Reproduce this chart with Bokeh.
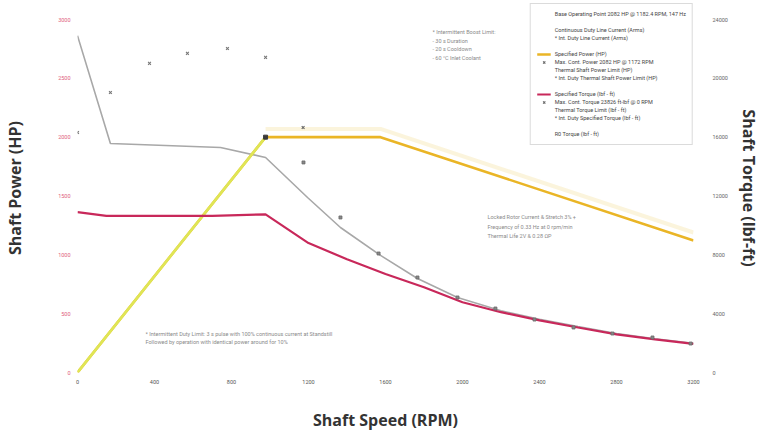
from bokeh.plotting import figure
from bokeh.models import Range1d, LinearAxis, Legend, LegendItem, Label, FixedTicker
from bokeh.embed import file_html
from bokeh.resources import INLINE

# ---------------- data ----------------
x_ticks = [0, 400, 800, 1200, 1600, 2000, 2400, 2800, 3200]
hp_ticks = [0, 500, 1000, 1500, 2000, 2500, 3000]
tq_ticks = [0, 4000, 8000, 12000, 16000, 20000, 24000]

# Specified power (HP)
power_rpm = [0, 977, 1574, 3200]
power_hp = [0, 2000, 2000, 1122]
# thermal shaft power limit (rising part)
thermal_power_rpm = [0, 977]
thermal_power_hp = [0, 2000]
# intermittent duty thermal shaft power (faint)
int_power_rpm = [977, 1574, 3200]
int_power_hp = [2070, 2070, 1190]

# Specified torque (lbf-ft)
torque_rpm = [0, 150, 400, 700, 977, 1200, 1400, 1600, 1800, 2000, 2200, 2400, 2600, 2800, 3000, 3200]
torque_lbft = [10900, 10650, 10650, 10650, 10750, 8800, 7700, 6700, 5800, 4780, 4100, 3540, 3060, 2590, 2250, 1950]

# Thermal torque limit (lbf-ft)
thermal_torque_rpm = [0, 171, 743, 977, 1195, 1366, 1574, 1766, 1974, 2200, 2400, 2600, 2800, 3000, 3200]
thermal_torque_lbft = [22900, 15570, 15300, 14620, 11900, 9860, 7960, 6390, 5100, 4200, 3620, 3120, 2650, 2290, 1990]

# Continuous duty line current markers (plotted on power scale)
current_rpm = [0, 171, 374, 571, 779, 977]
current_val = [2040, 2380, 2627, 2712, 2754, 2678]

# Max continuous torque markers
maxtq_rpm = [1174, 1366, 1564, 1766, 1974, 2171, 2374, 2577, 2779, 2987, 3185]
maxtq_lbft = [14280, 10540, 8090, 6460, 5100, 4350, 3600, 3060, 2650, 2380, 1970]

# Base operating point / max cont power
base_rpm = [977]
base_hp = [2000]
maxpow_rpm = [1172]
maxpow_hp = [2082]

FONT = "Open Sans"
SMALL_FONT = "Roboto"

p = figure(width=765, height=437, output_backend="svg", toolbar_location=None,
           x_range=Range1d(0, 3200), y_range=Range1d(0, 3136),
           min_border_left=77, min_border_right=72, min_border_top=3,
           min_border_bottom=65, background_fill_color="white",
           border_fill_color="white")
p.extra_y_ranges = {"torque": Range1d(0, 25088)}
p.grid.visible = False
p.outline_line_color = None

# ---------------- glyphs ----------------
r_int_pow = p.line(int_power_rpm, int_power_hp, line_color="#f3dc8a", line_width=4, line_alpha=0.3)
r_therm_tq = p.line(thermal_torque_rpm, thermal_torque_lbft, y_range_name="torque",
                    line_color="#a8a8a8", line_width=1.6)
r_power = p.line(power_rpm, power_hp, line_color="#eab526", line_width=2.6)
r_therm_pow = p.line(thermal_power_rpm, thermal_power_hp, line_color="#dfe655", line_width=2.6)
r_torque = p.line(torque_rpm, torque_lbft, y_range_name="torque", line_color="#c8285a", line_width=2.2)

r_current = p.scatter(current_rpm, current_val, marker="x", size=4, line_color="#777777", line_width=1.1)
r_maxtq = p.scatter(maxtq_rpm, maxtq_lbft, y_range_name="torque", marker="square", size=3,
                    fill_color="#888888", line_color="#6a6a6a", line_width=0.8)
r_maxpow = p.scatter(maxpow_rpm, maxpow_hp, marker="x", size=4, line_color="#666666", line_width=1.1)
r_base = p.scatter(base_rpm, base_hp, marker="square", size=4, fill_color="#3a3a3a", line_color="#3a3a3a")

# dummy renderers for legend rows
def blank():
    return p.line([], [], line_alpha=0)

r_intspec = p.line([], [], line_color="#999999", line_width=1)
r_r0 = p.quad(left=[], right=[], top=[], bottom=[], fill_color="#cccccc", line_color="#bbbbbb")
r_leg_base = p.scatter([], [], marker="x", size=4, line_color="#555555")

items = [
    LegendItem(label="Base Operating Point 2082 HP @ 1182.4 RPM, 147 Hz", renderers=[r_leg_base]),
    LegendItem(label=" ", renderers=[blank()]),
    LegendItem(label="Continuous Duty Line Current (Arms)", renderers=[blank()]),
    LegendItem(label="* Int. Duty Line Current (Arms)", renderers=[blank()]),
    LegendItem(label=" ", renderers=[blank()]),
    LegendItem(label="Specified Power (HP)", renderers=[r_power]),
    LegendItem(label="Max. Cont. Power 2082 HP @ 1172 RPM", renderers=[r_maxpow]),
    LegendItem(label="Thermal Shaft Power Limit (HP)", renderers=[blank()]),
    LegendItem(label="* Int. Duty Thermal Shaft Power Limit (HP)", renderers=[blank()]),
    LegendItem(label=" ", renderers=[blank()]),
    LegendItem(label="Specified Torque (lbf - ft)", renderers=[r_torque]),
    LegendItem(label="Max. Cont. Torque 23826 ft-lbf @ 0 RPM", renderers=[r_maxpow]),
    LegendItem(label="Thermal Torque Limit (lbf - ft)", renderers=[blank()]),
    LegendItem(label="* Int. Duty Specified Torque (lbf - ft)", renderers=[r_intspec]),
    LegendItem(label=" ", renderers=[blank()]),
    LegendItem(label="R0 Torque (lbf - ft)", renderers=[r_r0]),
]
legend = Legend(items=items, location="top_right", margin=0, padding=6, spacing=0,
                label_text_font_size="5.5px", label_text_font=SMALL_FONT, label_text_color="#444444",
                label_height=8, glyph_height=8, glyph_width=14, label_standoff=4,
                border_line_color="#b8b8b8", border_line_width=1,
                background_fill_color="white", background_fill_alpha=1)
p.add_layout(legend, "center")

# ---------------- annotations ----------------
note_style = dict(text_font_size="5.5px", text_font=SMALL_FONT, text_color="#8a8a8a")
for i, t in enumerate(["* Intermittent Boost Limit:", "- 30 s Duration", "- 20 s Cooldown",
                       "- 60 \u00b0C Inlet Coolant"]):
    p.add_layout(Label(x=1844, y=2890 - i * 72, text=t, text_baseline="middle", **note_style))
for i, t in enumerate(["Locked Rotor Current & Stretch 3% +", "Frequency of 0.33 Hz at 0 rpm/min",
                       "Thermal Life 2V & 0.28 \u03a9P"]):
    p.add_layout(Label(x=2130, y=1318 - i * 80, text=t, text_baseline="middle", **note_style))
for i, t in enumerate(["* Intermittent Duty Limit: 3 s pulse with 100% continuous current at Standstill",
                       "  Followed by operation with identical power around for 10%"]):
    p.add_layout(Label(x=353, y=331 - i * 76, text=t, text_baseline="middle", **note_style))

# ---------------- axes ----------------
def style_axis(ax, label_color):
    ax.axis_line_color = None
    ax.major_tick_line_color = None
    ax.minor_tick_line_color = None
    ax.major_label_text_font_size = "5.5px"
    ax.major_label_text_font = SMALL_FONT
    ax.major_label_text_color = label_color
    ax.axis_label_text_font = FONT
    ax.axis_label_text_font_style = "bold"
    ax.axis_label_text_font_size = "16px"
    ax.axis_label_text_color = "#333333"

xa = p.xaxis[0]
xa.ticker = FixedTicker(ticks=x_ticks)
xa.axis_label = "Shaft Speed (RPM)"
style_axis(xa, "#555555")
xa.major_label_standoff = 1
xa.axis_label_standoff = 22

ya = p.yaxis[0]
ya.ticker = FixedTicker(ticks=hp_ticks)
ya.axis_label = "Shaft Power (HP)"
style_axis(ya, "#e0607e")
ya.major_label_standoff = 1
ya.axis_label_standoff = 29

ra = LinearAxis(y_range_name="torque", ticker=FixedTicker(ticks=tq_ticks),
                axis_label="Shaft Torque (lbf-ft)")
style_axis(ra, "#666666")
ra.major_label_standoff = 13
ra.axis_label_standoff = 7
p.add_layout(ra, "right")

open("out.html", "w").write(file_html(p, INLINE))
